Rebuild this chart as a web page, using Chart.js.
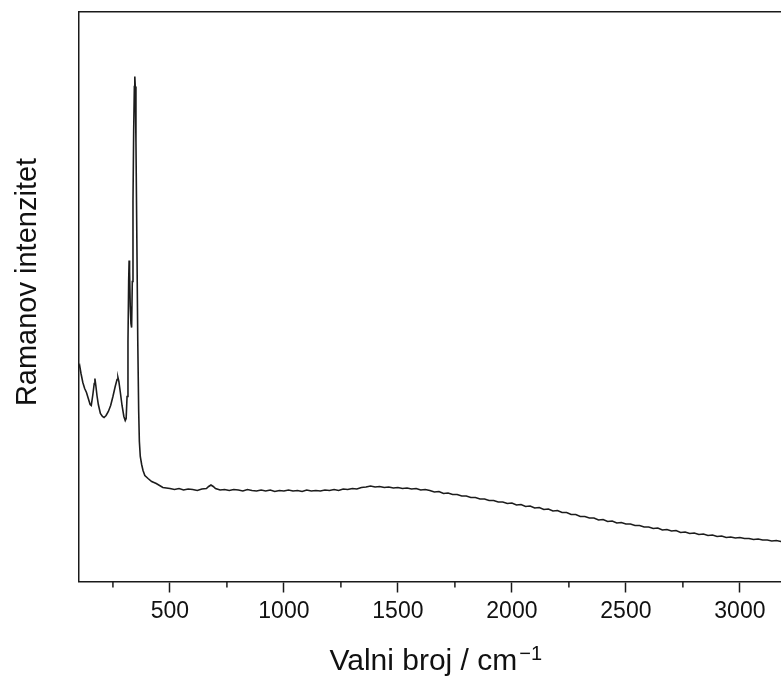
<!DOCTYPE html>
<html>
<head>
<meta charset="utf-8">
<script src="https://cdn.jsdelivr.net/npm/chart.js@4"></script>
<style>
    html, body { margin: 0; padding: 0; background: #fff; overflow: hidden; }
</style>
</head>
<body>
<canvas id="ramanChart" width="793" height="678"></canvas>
<script>
// Raman spectrum (intensity in arbitrary units)
const wavenumbers = [
    100, 104, 110, 118, 126, 134, 142, 150, 155, 162, 168, 171, 175, 180, 186, 195,
    204, 211, 220, 230, 240, 250, 260, 268, 272, 276, 282, 290, 298, 304, 308, 312,
    316, 319, 321, 323, 326, 329, 332, 335, 338, 341, 344, 346, 348, 351, 355, 359,
    363, 366, 370, 376, 382, 390, 404, 420, 440, 469, 500,
    520, 540, 560, 580, 600, 620, 640, 660, 670, 680, 690, 700, 720, 740, 760, 780,
    800, 820, 840, 860, 880, 900, 920, 940, 960, 980, 1000, 1020, 1040, 1060, 1080, 1100,
    1120, 1140, 1160, 1180, 1200, 1220, 1240, 1260, 1280, 1300, 1320, 1340, 1360, 1380, 1400, 1420,
    1440, 1460, 1480, 1500, 1520, 1540, 1560, 1580, 1600, 1620, 1640, 1660, 1680, 1700, 1720, 1740,
    1760, 1780, 1800, 1820, 1840, 1860, 1880, 1900, 1920, 1940, 1960, 1980, 2000, 2020, 2040, 2060,
    2080, 2100, 2120, 2140, 2160, 2180, 2200, 2220, 2240, 2260, 2280, 2300, 2320, 2340, 2360, 2380,
    2400, 2420, 2440, 2460, 2480, 2500, 2520, 2540, 2560, 2580, 2600, 2620, 2640, 2660, 2680, 2700,
    2720, 2740, 2760, 2780, 2800, 2820, 2840, 2860, 2880, 2900, 2920, 2940, 2960, 2980, 3000, 3020,
    3040, 3060, 3080, 3100, 3120, 3140, 3160, 3180, 3200, 3220, 3240
];
const intensity = [
    214, 216, 208, 199, 193, 189, 183, 177, 176, 187, 198, 203, 196, 186, 177, 168,
    165, 164, 166, 170, 176, 185, 195, 202, 204, 200, 190, 176, 165, 161, 163, 185,
    240, 300, 321, 310, 275, 258, 254, 300, 380, 450, 495, 505, 495, 440, 341, 240,
    170, 140, 125, 117, 111, 106, 103, 100, 98, 94, 93,
    92, 93, 91.5, 92.5, 92, 91, 92.5, 93, 95, 96.5, 95, 93, 91.5, 92, 91, 92,
    91.5, 90.5, 92, 91, 90.5, 91.5, 90.5, 91.5, 90, 91, 90.5, 91.5, 90.5, 91, 90, 91.5,
    90.5, 91, 90.5, 91.5, 91, 92, 91, 92.5, 92, 93, 92.5, 94, 94.5, 95.5, 94.5, 95,
    94, 94.5, 93.5, 94, 93, 93.5, 92.5, 93, 91.5, 92, 91, 89.5, 90, 88, 88.5, 87,
    87, 85.5, 85.5, 84, 84, 82.5, 82.5, 81, 81, 79.5, 79.5, 78, 78.5, 76.5, 77, 75,
    75.5, 73.5, 74, 72, 72.5, 70.5, 71, 69, 69, 67, 67, 65, 65, 63.5, 63.5, 61.5,
    62, 60, 60.5, 58.5, 59, 57.5, 57.5, 56, 56, 54.5, 54.5, 53, 53.5, 51.5, 52, 50.5,
    51, 49, 49.5, 48, 48.5, 47, 47.5, 46, 46.5, 45, 45.5, 44, 44.5, 43.5, 44, 43,
    43, 42, 42.5, 41.5, 41.5, 40.5, 41, 40, 39.8, 39.5, 39.2
];

const majorTicks = [500, 1000, 1500, 2000, 2500, 3000];
const minorTicks = [250, 750, 1250, 1750, 2250, 2750];
const xTitle = "Valni broj / cm";
const xTitleSup = "\u22121";
const yTitle = "Ramanov intenzitet";

const FONT = '"Liberation Sans", Arial, Helvetica, sans-serif';
const INK = "#1a1a1a";

// minor ticks + axis titles (superscript needs manual drawing)
const axisExtras = {
    id: "axisExtras",
    afterDraw(chart) {
        const ctx = chart.ctx;
        const xs = chart.scales.x;
        const area = chart.chartArea;

        ctx.save();
        ctx.strokeStyle = INK;
        ctx.lineWidth = 1.5;
        minorTicks.forEach(v => {
            const px = xs.getPixelForValue(v);
            ctx.beginPath();
            ctx.moveTo(px, area.bottom);
            ctx.lineTo(px, area.bottom + 6);
            ctx.stroke();
        });

        ctx.fillStyle = "#111";
        ctx.textBaseline = "alphabetic";
        ctx.textAlign = "left";
        ctx.font = "30px " + FONT;
        const wMain = ctx.measureText(xTitle).width;
        ctx.font = "20px " + FONT;
        const wSup = ctx.measureText(xTitleSup).width;
        const cx = (area.left + area.right) / 2;
        const x0 = cx - (wMain + 2 + wSup) / 2;
        ctx.font = "30px " + FONT;
        ctx.fillText(xTitle, x0, 670);
        ctx.font = "20px " + FONT;
        ctx.fillText(xTitleSup, x0 + wMain + 2, 660);

        ctx.translate(27.5, 282);
        ctx.rotate(-Math.PI / 2);
        ctx.textAlign = "center";
        ctx.textBaseline = "middle";
        ctx.font = "29px " + FONT;
        ctx.fillText(yTitle, 0, 0);
        ctx.restore();
    }
};

const points = wavenumbers.map((w, i) => ({ x: w, y: intensity[i] }));

new Chart(document.getElementById("ramanChart").getContext("2d"), {
    type: "line",
    data: {
        datasets: [{
            data: points,
            borderColor: "#1c1c1c",
            borderWidth: 1.6,
            pointRadius: 0,
            tension: 0,
            fill: false
        }]
    },
    options: {
        responsive: false,
        animation: false,
        layout: { padding: 0 },
        plugins: {
            legend: { display: false },
            tooltip: { enabled: false }
        },
        scales: {
            x: {
                type: "linear",
                position: "bottom",
                min: 99,
                max: 3233,
                afterBuildTicks(scale) {
                    scale.ticks = majorTicks.map(v => ({ value: v }));
                },
                ticks: {
                    autoSkip: false,
                    maxRotation: 0,
                    padding: 5,
                    color: "#111",
                    font: { family: FONT, size: 23 },
                    callback: v => String(v)
                },
                grid: {
                    drawOnChartArea: false,
                    drawTicks: true,
                    tickLength: 11,
                    tickWidth: 1.5,
                    tickColor: INK
                },
                border: { display: true, color: INK, width: 1.5 },
                afterFit(scale) { scale.height = 96.5; }
            },
            x2: {
                type: "linear",
                position: "top",
                min: 99,
                max: 3233,
                ticks: { display: false },
                grid: { drawOnChartArea: false, drawTicks: false },
                border: { display: true, color: INK, width: 1.5 },
                afterFit(scale) { scale.height = 12; }
            },
            y: {
                type: "linear",
                position: "left",
                min: 0,
                max: 569.5,
                ticks: { display: false },
                grid: { drawOnChartArea: false, drawTicks: false },
                border: { display: true, color: INK, width: 1.5 },
                afterFit(scale) { scale.width = 78.5; }
            }
        }
    },
    plugins: [axisExtras]
});
</script>
</body>
</html>
